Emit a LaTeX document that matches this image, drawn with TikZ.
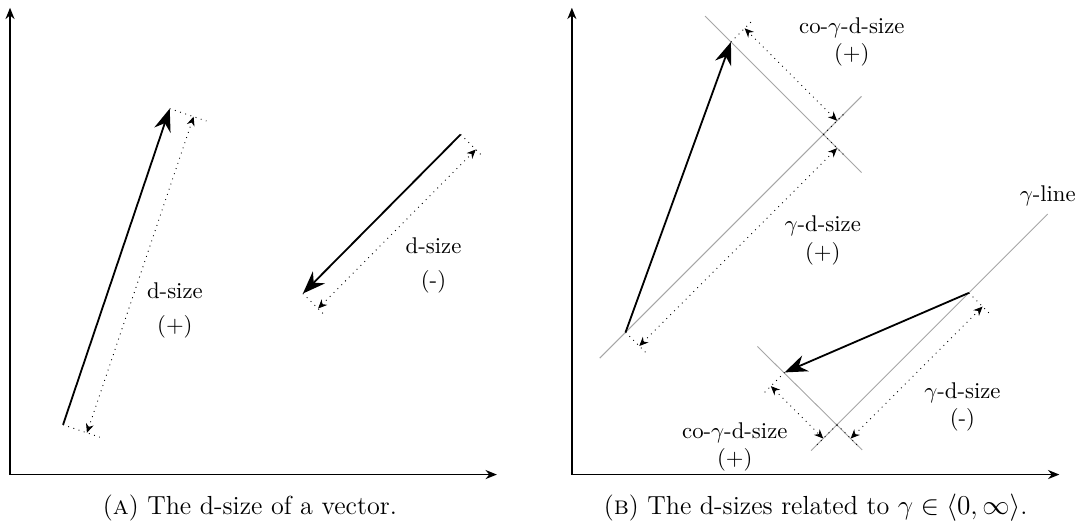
\documentclass[tikz,border=0pt]{standalone}
\usepackage{amsmath,amssymb}
\usetikzlibrary{arrows.meta,calc,positioning}

\tikzset{
  axis/.style={line width=0.6pt,-{Stealth[length=5pt,width=4pt]}},
  vec/.style={thick,-{Stealth[length=10pt,width=7.5pt]}},
  gline/.style={gray!70,line width=0.4pt},
  dimext/.style={dotted,line width=0.4pt},
  dimarr/.style={dotted,line width=0.4pt,{Stealth[length=4pt,width=3.5pt]}-{Stealth[length=4pt,width=3.5pt]}},
  lbl/.style={align=center},
  captext/.style={font=\fontsize{11.5}{14}\selectfont}
}

% dotted size marks: from, to, extension, offset (offset goes right of from->to)
\newcommand{\dimline}[4]{%
  \draw[dimext] (#1) -- ($(#1)!#3!-90:(#2)$);
  \draw[dimext] (#2) -- ($(#2)!#3!90:(#1)$);
  \draw[dimarr] ($(#1)!#4!-90:(#2)$) -- ($(#2)!#4!90:(#1)$);
}

\begin{document}
\begin{tikzpicture}
  \useasboundingbox (-0.155,-0.835) rectangle (16.58,7.34);

  % Left picture: axes
  \coordinate (o) at (0,0);
  \coordinate (xa) at (7.53,0);
  \coordinate (ya) at (0,7.22);
  \draw[axis] (o) -- (xa);
  \draw[axis] (o) -- (ya);

  % two vectors
  \coordinate (p1) at (0.82,0.77);
  \coordinate (q1) at (2.47,5.66);
  \coordinate (p2) at (6.97,5.26);
  \coordinate (q2) at (4.53,2.80);
  \draw[vec] (p1) -- (q1);
  \draw[vec] (p2) -- (q2);
  \dimline{p1}{q1}{0.6cm}{0.39cm}
  \dimline{q2}{p2}{0.5cm}{0.33cm}

  % labels
  \node[lbl] (ds1) at (2.55,2.54) {d-size\\[3pt](+)};
  \node[lbl] (ds2) at (6.55,3.24) {d-size\\[3pt](-)};
  \node[captext] (capA) at (3.71,-0.52) {(\textsc{a}) The d-size of a vector.};

  % Right picture (shifted)
  \begin{scope}[xshift=8.69cm]
    \coordinate (ob) at (0,0);
    \coordinate (xb) at (7.54,0);
    \coordinate (yb) at (0,7.22);
    \draw[axis] (ob) -- (xb);
    \draw[axis] (ob) -- (yb);

    % first vector and its projection on the gamma-line
    \coordinate (a1) at (0.83,2.20);
    \coordinate (b1) at (2.46,6.69);
    \coordinate (a1d) at ($(a1)+(1,1)$);
    \coordinate (c1) at ($(a1)!(b1)!(a1d)$);

    % second vector
    \coordinate (a2) at (6.14,2.81);
    \coordinate (b2) at (3.29,1.58);
    \coordinate (a2d) at ($(a2)+(1,1)$);
    \coordinate (c2) at ($(a2)!(b2)!(a2d)$);

    % gamma-lines and perpendiculars
    \draw[gline] ($(a1)+(-0.4,-0.4)$) -- ($(c1)+(0.59,0.59)$);
    \draw[gline] ($(b1)+(-0.4,0.4)$) -- ($(c1)+(0.59,-0.59)$);
    \draw[gline] ($(c2)+(-0.4,-0.4)$) -- ($(a2)+(1.22,1.22)$)
      node[above,black] (gl) {$\gamma$-line};
    \draw[gline] ($(b2)+(-0.42,0.4)$) -- ($(c2)+(0.39,-0.39)$);

    \draw[vec] (a1) -- (b1);
    \draw[vec] (a2) -- (b2);

    \dimline{a1}{c1}{0.5cm}{0.3cm}
    \dimline{c1}{b1}{0.5cm}{0.3cm}
    \dimline{c2}{a2}{0.5cm}{0.3cm}
    \dimline{b2}{c2}{0.5cm}{0.3cm}

    % labels
    \node[lbl] (cg1) at (4.33,6.69) {co-$\gamma$-d-size\\(+)};
    \node[lbl] (g1) at (3.88,3.62) {$\gamma$-d-size\\(+)};
    \node[lbl] (g2) at (6.04,1.05) {$\gamma$-d-size\\(-)};
    \node[lbl] (cg2) at (2.52,0.43) {co-$\gamma$-d-size\\(+)};
    \node[captext] (capB) at (3.77,-0.52) {(\textsc{b}) The d-sizes related to $\gamma\in\langle 0,\infty\rangle$.};
  \end{scope}
\end{tikzpicture}
\end{document}
